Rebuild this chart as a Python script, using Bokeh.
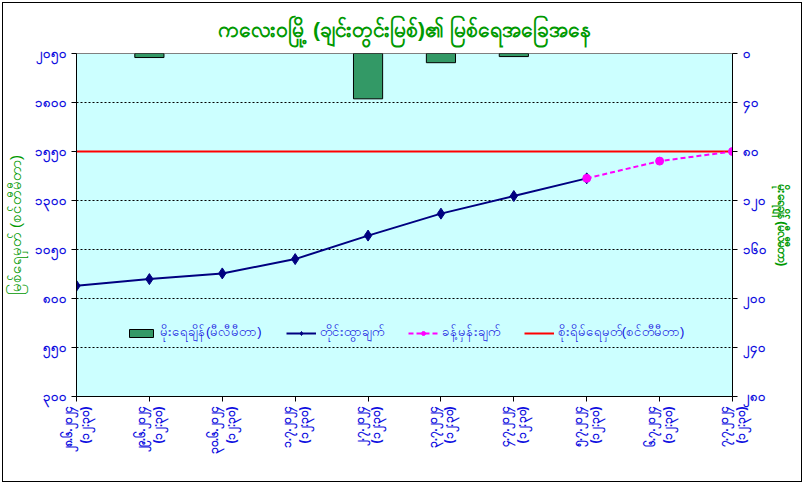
from math import pi
from bokeh.plotting import figure
from bokeh.models import Range1d, LinearAxis, FixedTicker, Legend, LegendItem
from bokeh.embed import file_html
from bokeh.resources import INLINE

# ---------------- data ----------------
dates = ["၂၈.၆.၂၀၂၄", "၂၉.၆.၂၀၂၄", "၃၀.၆.၂၀၂၄", "၁.၇.၂၀၂၄", "၂.၇.၂၀၂၄",
         "၃.၇.၂၀၂၄", "၄.၇.၂၀၂၄", "၅.၇.၂၀၂၄", "၆.၇.၂၀၂၄", "၇.၇.၂၀၂၄"]
time_label = "(၁၂:၃၀)"
x_idx = list(range(len(dates)))

rain_x = [0, 1, 2, 3, 4, 5, 6, 7]
rain_mm = [0, 3.3, 0, 0, 37, 7.5, 2.5, 0]

obs_x = [0, 1, 2, 3, 4, 5, 6, 7]
observed = [865, 899, 928, 1001, 1121, 1233, 1323, 1413]

fc_x = [7, 8, 9]
forecast = [1413, 1501, 1550]

danger_x = [0, 9]
danger = [1550, 1550]

level_ticks = [300, 550, 800, 1050, 1300, 1550, 1800, 2050]
level_tick_labels = ["၃၀၀", "၅၅၀", "၈၀၀", "၁၀၅၀", "၁၃၀၀", "၁၅၅၀", "၁၈၀၀", "၂၀၅၀"]
rain_ticks = [0, 40, 80, 120, 160, 200, 240, 280]
rain_tick_labels = ["၀", "၄၀", "၈၀", "၁၂၀", "၁၆၀", "၂၀၀", "၂၄၀", "၂၈၀"]

title = "ကလေးဝမြို့ (ချင်းတွင်းမြစ်)၏ မြစ်ရေအခြေအနေ"
left_title = "မြစ်ရေမှတ် (စင်တီမီတာ)"
right_title = "မိုးရေချိန် (မီလီမီတာ)"
legend_labels = ["မိုးရေချိန်(မီလီမီတာ)", "တိုင်းထွာချက်", "ခန့်မှန်းချက်", "စိုးရိမ်ရေမှတ်(စင်တီမီတာ)"]

# ---------------- styling ----------------
BLUE = "#1010E0"
GREEN = "#009900"

p = figure(width=800, height=480, x_range=Range1d(0, 9), y_range=Range1d(300, 2050),
           output_backend="svg", toolbar_location=None,
           min_border_left=72, min_border_right=71, min_border_top=49, min_border_bottom=87,
           background_fill_color="#CCFFFF", border_fill_color="white", title=title)
p.styles = {"border": "1px solid black", "margin-left": "2px", "margin-top": "2px"}
p.outline_line_color = "#808080"

p.title.align = "center"
p.title.text_color = GREEN
p.title.text_font_size = "21px"
p.title.text_font_style = "bold"
p.title.standoff = 25

p.extra_y_ranges = {"rain": Range1d(280, 0)}

# left axis
ly = p.yaxis[0]
ly.ticker = FixedTicker(ticks=level_ticks)
ly.major_label_overrides = dict(zip(level_ticks, level_tick_labels))
ly.axis_label = left_title
ly.axis_label_text_color = GREEN
ly.axis_label_text_font_size = "15px"
ly.axis_label_text_font_style = "normal"
ly.axis_label_standoff = 8
ly.major_label_text_color = BLUE
ly.major_label_text_font_size = "13px"
ly.major_label_text_font_style = "bold"
ly.major_tick_out = 5
ly.major_tick_in = 0
ly.minor_tick_out = 0
ly.minor_tick_in = 0
ly.axis_line_color = "black"

# right axis
ry = LinearAxis(y_range_name="rain", ticker=FixedTicker(ticks=rain_ticks),
                major_label_overrides=dict(zip(rain_ticks, rain_tick_labels)),
                axis_label=right_title)
ry.axis_label_text_color = GREEN
ry.axis_label_text_font_size = "12px"
ry.axis_label_text_font_style = "bold"
ry.axis_label_standoff = 5
ry.major_label_text_color = BLUE
ry.major_label_text_font_size = "13px"
ry.major_label_text_font_style = "bold"
ry.major_tick_out = 5
ry.major_tick_in = 0
ry.minor_tick_out = 0
ry.minor_tick_in = 0
ry.axis_line_color = "black"
p.add_layout(ry, "right")

# x axis
xa = p.xaxis[0]
xa.ticker = FixedTicker(ticks=x_idx)
xa.major_label_overrides = {i: d + "\n" + time_label for i, d in zip(x_idx, dates)}
xa.major_label_orientation = pi / 2
xa.major_label_standoff = 5
xa.major_label_text_color = BLUE
xa.major_label_text_font_size = "12px"
xa.major_label_text_font_style = "bold"
xa.major_tick_out = 5
xa.major_tick_in = 0
xa.minor_tick_out = 0
xa.minor_tick_in = 0
xa.axis_line_color = "black"

p.xgrid.visible = False
p.ygrid.grid_line_color = "black"
p.ygrid.grid_line_dash = "2 2"
p.ygrid.grid_line_width = 1

# ---------------- glyphs ----------------
bx = [x for x, v in zip(rain_x, rain_mm) if v > 0]
bv = [v for v in rain_mm if v > 0]
bars = p.vbar(x=bx, top=0, bottom=bv, width=0.4, y_range_name="rain",
              fill_color="#339966", line_color="#000000", line_width=1)
red = p.line(danger_x, danger, line_color="#FF0000", line_width=2)
obs_line = p.line(obs_x, observed, line_color="#000080", line_width=2)
obs_pts = p.scatter(obs_x, observed, marker="diamond", size=11, fill_color="#000080", line_color="#000080")
fc_line = p.line(fc_x, forecast, line_color="#FF00FF", line_width=2, line_dash="5 3")
fc_pts = p.scatter(fc_x, forecast, marker="circle", size=8, fill_color="#FF00FF", line_color="#FF00FF")

legend = Legend(items=[
    LegendItem(label=legend_labels[0], renderers=[bars]),
    LegendItem(label=legend_labels[1], renderers=[obs_line, obs_pts]),
    LegendItem(label=legend_labels[2], renderers=[fc_line, fc_pts]),
    LegendItem(label=legend_labels[3], renderers=[red]),
], orientation="horizontal", location=(50, 54), background_fill_alpha=0,
    border_line_alpha=0, label_text_color=BLUE, label_text_font_size="13px",
    glyph_width=30, glyph_height=10, spacing=24, padding=0, margin=0, label_standoff=4)
p.add_layout(legend)

open("out.html", "w").write(file_html(p, INLINE))
